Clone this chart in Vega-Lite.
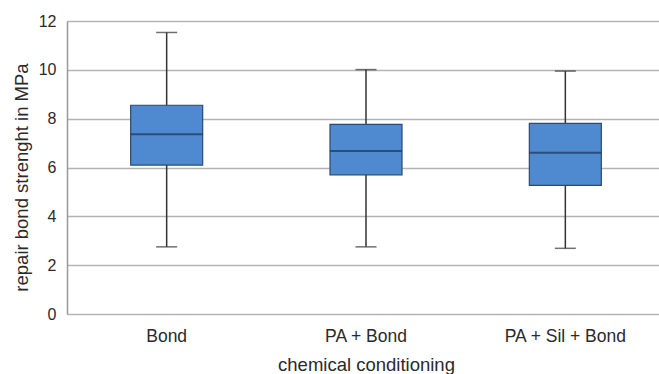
{
  "$schema": "https://vega.github.io/schema/vega-lite/v6.json",
  "autosize": "none",
  "width": 598,
  "height": 293,
  "padding": {"left": 67, "top": 21, "right": 0, "bottom": 60},
  "background": "white",
  "config": {
    "font": "Liberation Sans",
    "view": {"stroke": null}
  },
  "data": {
    "values": [
      {"cond": "Bond", "min": 2.75, "q1": 6.1, "median": 7.36, "q3": 8.55, "max": 11.53},
      {"cond": "PA + Bond", "min": 2.75, "q1": 5.7, "median": 6.68, "q3": 7.77, "max": 10.01},
      {"cond": "PA + Sil + Bond", "min": 2.69, "q1": 5.27, "median": 6.6, "q3": 7.81, "max": 9.95}
    ]
  },
  "encoding": {
    "x": {
      "field": "cond",
      "type": "nominal",
      "sort": null,
      "scale": {"paddingInner": 0, "paddingOuter": 0},
      "axis": {
        "title": "chemical conditioning",
        "labelAngle": 0,
        "labelFontSize": 17.5,
        "labelColor": "#2a2a2a",
        "labelPadding": 13,
        "titleFontSize": 18.5,
        "titleFontWeight": "normal",
        "titleColor": "#2a2a2a",
        "titlePadding": 11,
        "ticks": false,
        "domain": false
      }
    }
  },
  "layer": [
    {
      "mark": {"type": "rule", "color": "#333", "strokeWidth": 1.5},
      "encoding": {
        "y": {
          "field": "min",
          "type": "quantitative",
          "scale": {"domain": [0, 12], "nice": false},
          "axis": {
            "title": "repair bond strenght in MPa",
            "values": [0, 2, 4, 6, 8, 10, 12],
            "grid": true,
            "gridColor": "#b4b4b4",
            "gridWidth": 1.5,
            "domain": true,
            "domainColor": "#999",
            "domainWidth": 1.5,
            "ticks": false,
            "labelFontSize": 16,
            "labelColor": "#2a2a2a",
            "labelPadding": 11,
            "titleFontSize": 18.5,
            "titleFontWeight": "normal",
            "titleColor": "#2a2a2a",
            "titlePadding": 7,
            "titleY": 156
          }
        },
        "y2": {"field": "max"}
      }
    },
    {
      "mark": {"type": "tick", "color": "#333", "size": 21, "thickness": 1.5},
      "encoding": {"y": {"field": "min", "type": "quantitative"}}
    },
    {
      "mark": {"type": "tick", "color": "#333", "size": 21, "thickness": 1.5},
      "encoding": {"y": {"field": "max", "type": "quantitative"}}
    },
    {
      "mark": {"type": "bar", "size": 72, "fill": "#4f89cf", "stroke": "#2b4a6f", "strokeWidth": 1.2},
      "encoding": {
        "y": {"field": "q1", "type": "quantitative"},
        "y2": {"field": "q3"}
      }
    },
    {
      "mark": {"type": "tick", "color": "#1d3452", "size": 72, "thickness": 2},
      "encoding": {"y": {"field": "median", "type": "quantitative"}}
    }
  ]
}
